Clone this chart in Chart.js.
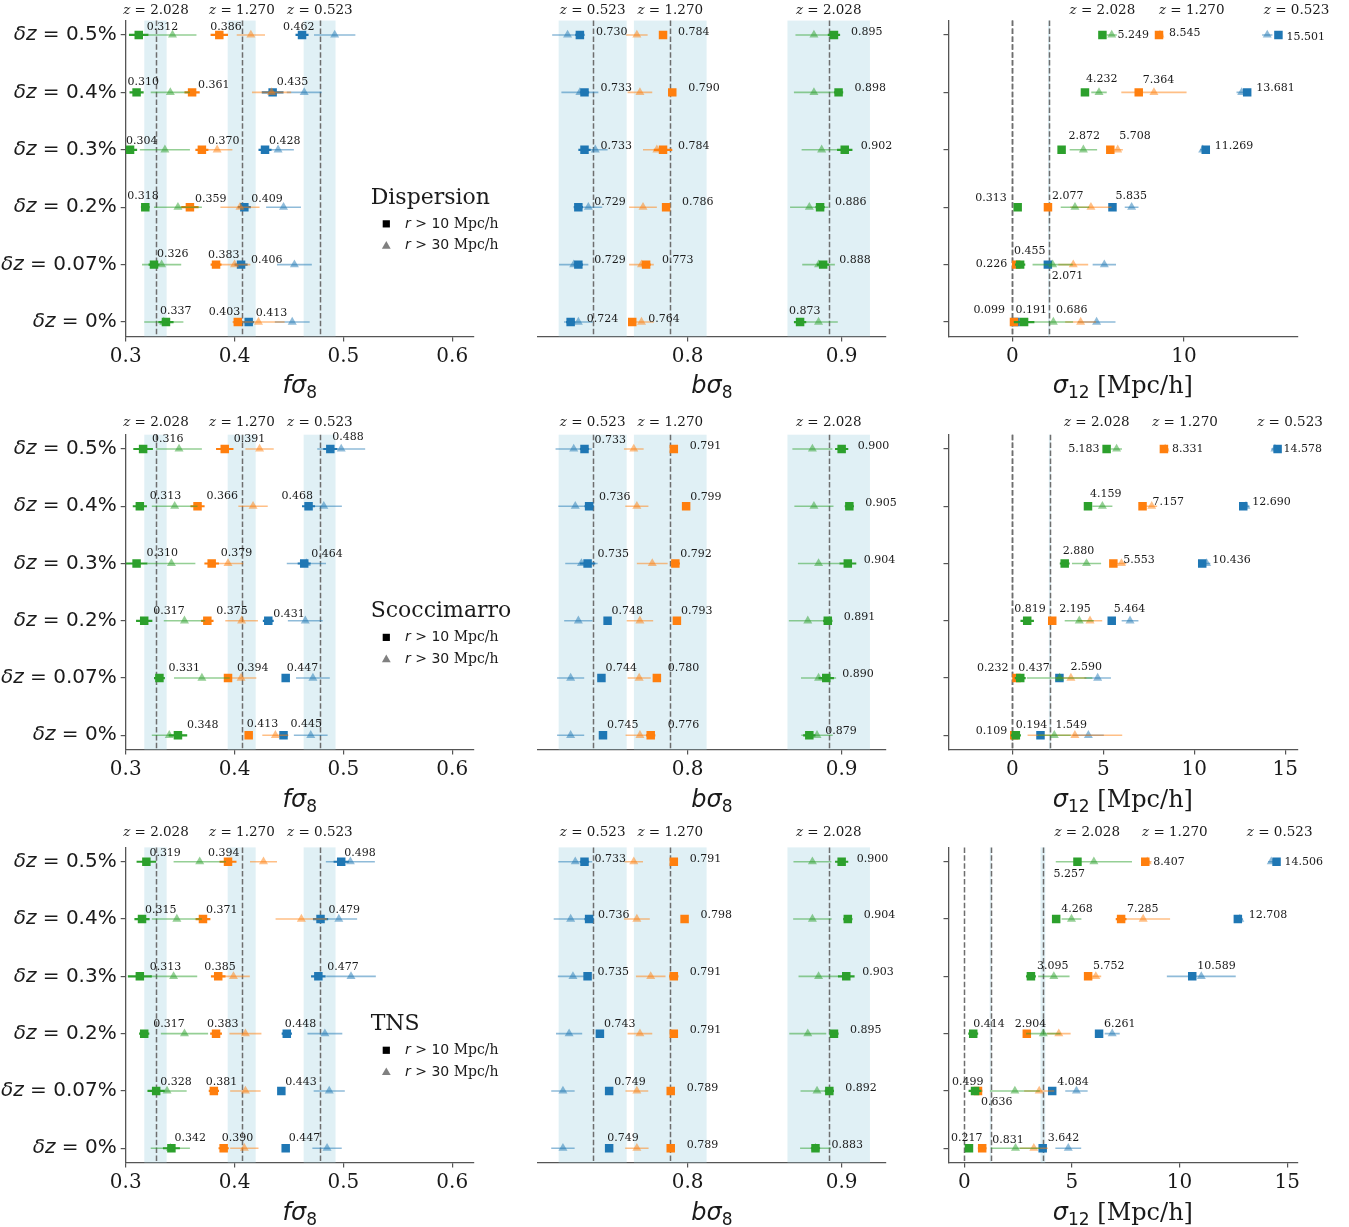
<!DOCTYPE html>
<html>
<head>
<meta charset="utf-8">
<script src="https://cdn.jsdelivr.net/npm/chart.js@4/dist/chart.umd.min.js"></script>
<style>
  html, body { margin: 0; padding: 0; background: #fff; }
  #fig { position: relative; width: 1349px; height: 1227px; overflow: hidden; background: #fff; }
  #fig canvas { position: absolute; }
</style>
</head>
<body>
<div id="fig"></div>
<script>
// ── labels ────────────────────────────────────────────────────────
const METHODS = ['Dispersion', 'Scoccimarro', 'TNS'];
const DZ_LABELS = ['0.5%', '0.4%', '0.3%', '0.2%', '0.07%', '0%'];   // top to bottom
const Z_LABELS = ['2.028', '1.270', '0.523'];                        // green, orange, blue
const CUT_LABELS = ['10', '30'];

// ── fiducial values & ±3% bands ───────────────────────────────────
const FS8_FID = [0.3278, 0.4068, 0.4784];
const FS8_BANDS = [[0.3171, 0.3376], [0.3937, 0.4194], [0.4635, 0.4928]];
const BS8_FID = [0.8916, 0.7887, 0.7383];
const BS8_BANDS = [[0.8648, 0.9184], [0.7651, 0.8123], [0.7162, 0.7604]];
const S12_FID = [[0, 0, 2.14], [0, 0, 2.07], [0, 1.22, 3.65]];
const S12_BANDS = [
  [[0, 0], [0, 0], [2.08, 2.20]],
  [[0, 0], [0, 0], [2.01, 2.13]],
  [[0, 0], [1.18, 1.26], [3.54, 3.76]],
];
const S12_ZX = [[5.25, 10.45, 16.56], [4.64, 9.49, 15.26], [5.71, 9.78, 14.65]];

// ── axis ranges ───────────────────────────────────────────────────
const FS8_RANGE = [0.3, 0.62];
const BS8_RANGE = [0.7028, 0.9288];
const S12_RANGE = [[-3.716, 16.6], [-3.505, 15.66], [-0.734, 15.47]];
const S12_STEP = [10, 5, 5];

// ── Dispersion ────────────────────────────────────────────────────
// rows: dz 0.5% .. 0% ; columns: z = 2.028, 1.270, 0.523
const DISP_FS8_SQ = [[0.312, 0.386, 0.462], [0.310, 0.361, 0.435], [0.304, 0.370, 0.428], [0.318, 0.359, 0.409], [0.326, 0.383, 0.406], [0.337, 0.403, 0.413]];
const DISP_FS8_SQ_ERR = [[0.009, 0.008, 0.006], [0.0065, 0.007, 0.010], [0.0065, 0.006, 0.006], [0.004, 0.008, 0.006], [0.005, 0.005, 0.006], [0.007, 0.004, 0.005]];
const DISP_FS8_TRI = [[0.343, 0.415, 0.492], [0.341, 0.434, 0.464], [0.336, 0.384, 0.440], [0.348, 0.405, 0.445], [0.333, 0.400, 0.455], [0.335, 0.422, 0.453]];
const DISP_FS8_TRI_ERR = [[0.022, 0.013, 0.019], [0.018, 0.018, 0.016], [0.023, 0.014, 0.0145], [0.022, 0.018, 0.016], [0.018, 0.0145, 0.016], [0.018, 0.024, 0.016]];

const DISP_BS8_SQ = [[0.895, 0.784, 0.730], [0.898, 0.790, 0.733], [0.902, 0.784, 0.733], [0.886, 0.786, 0.729], [0.888, 0.773, 0.729], [0.873, 0.764, 0.724]];
const DISP_BS8_SQ_ERR = [[0.004, 0.002, 0.003], [0.003, 0.002, 0.003], [0.005, 0.006, 0.004], [0.003, 0.002, 0.003], [0.004, 0.003, 0.003], [0.004, 0.002, 0.003]];
const DISP_BS8_TRI = [[0.882, 0.767, 0.722], [0.882, 0.769, 0.730], [0.887, 0.780, 0.740], [0.879, 0.771, 0.7355], [0.885, 0.770, 0.726], [0.885, 0.770, 0.729]];
const DISP_BS8_TRI_ERR = [[0.012, 0.007, 0.010], [0.013, 0.008, 0.012], [0.013, 0.009, 0.008], [0.0125, 0.009, 0.009], [0.0106, 0.008, 0.0095], [0.0125, 0.008, 0.0093]];

const DISP_S12_SQ = [[5.249, 8.545, 15.501], [4.232, 7.364, 13.681], [2.872, 5.708, 11.269], [0.313, 2.077, 5.835], [0.455, 0.226, 2.071], [0.686, 0.099, 0.191]];
const DISP_S12_SQ_ERR = [[0.15, 0.1, 0.1], [0.15, 0.2, 0.1], [0.2, 0.2, 0.1], [0.1, 0.1, 0.2], [0.3, 0.1, 0.1], [0.6, 0.1, 0.1]];
const DISP_S12_TRI = [[5.79, 8.6, 14.85], [5.05, 8.25, 13.36], [4.14, 6.14, 11.09], [3.65, 4.58, 6.95], [2.35, 3.55, 5.36], [2.39, 3.98, 4.91]];
const DISP_S12_TRI_ERR = [[0.3, 0.2, 0.3], [0.45, 1.9, 0.3], [0.8, 0.3, 0.15], [0.83, 1.2, 0.4], [1.17, 0.87, 0.68], [1.15, 0.9, 1.1]];

// ── Scoccimarro ───────────────────────────────────────────────────
const SCOC_FS8_SQ = [[0.316, 0.391, 0.488], [0.313, 0.366, 0.468], [0.310, 0.379, 0.464], [0.317, 0.375, 0.431], [0.331, 0.394, 0.447], [0.348, 0.413, 0.445]];
const SCOC_FS8_SQ_ERR = [[0.009, 0.008, 0.0065], [0.0065, 0.0065, 0.006], [0.010, 0.0067, 0.006], [0.0075, 0.0057, 0.005], [0.005, 0.003, 0.003], [0.0085, 0.003, 0.004]];
const SCOC_FS8_TRI = [[0.349, 0.423, 0.498], [0.345, 0.417, 0.482], [0.342, 0.394, 0.466], [0.354, 0.4065, 0.465], [0.370, 0.406, 0.472], [0.340, 0.4375, 0.470]];
const SCOC_FS8_TRI_ERR = [[0.021, 0.013, 0.022], [0.021, 0.0135, 0.0166], [0.022, 0.014, 0.018], [0.019, 0.015, 0.016], [0.0256, 0.014, 0.0155], [0.016, 0.012, 0.0155]];

const SCOC_BS8_SQ = [[0.900, 0.791, 0.733], [0.905, 0.799, 0.736], [0.904, 0.792, 0.735], [0.891, 0.793, 0.748], [0.890, 0.780, 0.744], [0.879, 0.776, 0.745]];
const SCOC_BS8_SQ_ERR = [[0.0043, 0.002, 0.003], [0.003, 0.002, 0.003], [0.0055, 0.003, 0.005], [0.003, 0.002, 0.002], [0.005, 0.002, 0.002], [0.004, 0.003, 0.002]];
const SCOC_BS8_TRI = [[0.881, 0.765, 0.726], [0.882, 0.767, 0.727], [0.885, 0.777, 0.731], [0.878, 0.769, 0.729], [0.885, 0.7685, 0.724], [0.884, 0.769, 0.724]];
const SCOC_BS8_TRI_ERR = [[0.013, 0.0064, 0.0118], [0.0127, 0.0075, 0.011], [0.0134, 0.010, 0.0105], [0.0123, 0.0086, 0.0092], [0.0114, 0.0075, 0.0088], [0.0102, 0.0093, 0.0088]];

const SCOC_S12_SQ = [[5.183, 8.331, 14.578], [4.159, 7.157, 12.690], [2.880, 5.553, 10.436], [0.819, 2.195, 5.464], [0.437, 0.232, 2.590], [0.194, 0.109, 1.549]];
const SCOC_S12_SQ_ERR = [[0.15, 0.1, 0.1], [0.15, 0.15, 0.1], [0.27, 0.15, 0.2], [0.37, 0.1, 0.1], [0.3, 0.1, 0.15], [0.28, 0.1, 0.1]];
const SCOC_S12_TRI = [[5.73, 8.4, 14.43], [4.95, 7.66, 12.84], [4.08, 6.0, 10.68], [3.68, 4.27, 6.47], [2.6, 3.22, 4.69], [2.31, 3.44, 4.18]];
const SCOC_S12_TRI_ERR = [[0.3, 0.2, 0.2], [0.55, 0.3, 0.2], [0.8, 0.27, 0.2], [0.8, 0.67, 0.46], [1.8, 0.85, 0.73], [0.9, 2.6, 0.85]];

// ── TNS ───────────────────────────────────────────────────────────
const TNS_FS8_SQ = [[0.319, 0.394, 0.498], [0.315, 0.371, 0.479], [0.313, 0.385, 0.477], [0.317, 0.383, 0.448], [0.328, 0.381, 0.443], [0.342, 0.390, 0.447]];
const TNS_FS8_SQ_ERR = [[0.009, 0.0078, 0.007], [0.007, 0.0068, 0.007], [0.011, 0.0067, 0.0067], [0.0047, 0.0054, 0.0047], [0.0079, 0.0047, 0.003], [0.0078, 0.0047, 0.003]];
const TNS_FS8_TRI = [[0.368, 0.4266, 0.5064], [0.347, 0.4614, 0.4958], [0.344, 0.399, 0.507], [0.354, 0.410, 0.483], [0.338, 0.410, 0.487], [0.341, 0.409, 0.485]];
const TNS_FS8_TRI_ERR = [[0.024, 0.0124, 0.0225], [0.023, 0.0237, 0.0168], [0.0217, 0.015, 0.0228], [0.0217, 0.0147, 0.016], [0.018, 0.014, 0.0143], [0.018, 0.013, 0.0135]];

const TNS_BS8_SQ = [[0.900, 0.791, 0.733], [0.904, 0.798, 0.736], [0.903, 0.791, 0.735], [0.895, 0.791, 0.743], [0.892, 0.789, 0.749], [0.883, 0.789, 0.749]];
const TNS_BS8_SQ_ERR = [[0.0043, 0.002, 0.003], [0.003, 0.002, 0.003], [0.0054, 0.003, 0.002], [0.003, 0.002, 0.002], [0.003, 0.002, 0.002], [0.003, 0.002, 0.002]];
const TNS_BS8_TRI = [[0.881, 0.765, 0.727], [0.881, 0.767, 0.724], [0.885, 0.776, 0.7255], [0.878, 0.769, 0.723], [0.884, 0.767, 0.719], [0.883, 0.767, 0.719]];
const TNS_BS8_TRI_ERR = [[0.0123, 0.006, 0.011], [0.0125, 0.0084, 0.011], [0.013, 0.0096, 0.0098], [0.012, 0.008, 0.0085], [0.0107, 0.0074, 0.0076], [0.010, 0.0076, 0.0076]];

const TNS_S12_SQ = [[5.257, 8.407, 14.506], [4.268, 7.285, 12.708], [3.095, 5.752, 10.589], [0.414, 2.904, 6.261], [0.499, 0.636, 4.084], [0.217, 0.831, 3.642]];
const TNS_S12_SQ_ERR = [[0.15, 0.1, 0.1], [0.15, 0.25, 0.1], [0.23, 0.15, 0.15], [0.23, 0.1, 0.1], [0.3, 0.2, 0.1], [0.1, 0.2, 0.1]];
const TNS_S12_TRI = [[6.02, 8.5, 14.26], [4.98, 8.31, 12.8], [4.16, 6.11, 11.01], [3.67, 4.39, 6.87], [2.35, 3.48, 5.21], [2.38, 3.23, 4.83]];
const TNS_S12_TRI_ERR = [[1.77, 0.2, 0.15], [0.46, 1.25, 0.15], [0.73, 0.25, 1.6], [0.8, 0.55, 0.35], [1.16, 0.7, 0.52], [1.15, 0.65, 0.6]];

// ── value-label nudges (px from the square: dx, dy, 'r' = right aligned) ──
const DISP_FS8_NUDGE = [[[8, -8], [-9, -8], [-19, -8]], [[-9, -10], [6, -7], [4, -10]], [[-4, -9], [6, -9], [4, -9]], [[-18, -11], [5, -8], [7, -8]], [[3, -10], [-8, -9], [10, -4]], [[-6, -11], [-29, -10], [7, -9]]];
const DISP_BS8_NUDGE = [[[17, -3], [15, -3], [16, -3]], [[16, -4], [16, -4], [16, -4]], [[16, -4], [15, -4], [16, -4]], [[15, -5], [16, -5], [16, -5]], [[16, -4], [16, -4], [16, -4]], [[-11, -11], [16, -3], [16, -3]]];
const DISP_S12_NUDGE = [[[15, 0], [10, -2], [8, 2]], [[1, -13], [4, -12], [9, -4]], [[7, -14], [9, -14], [9, -4]], [[-11, -9, 'r'], [4, -11], [3, -11]], [[-6, -13], [-9, 0, 'r'], [4, 12]], [[32, -12], [-9, -12, 'r'], [0, -12]]];
const SCOC_FS8_NUDGE = [[[9, -10], [9, -10], [2, -12]], [[10, -10], [9, -10], [-27, -10]], [[10, -10], [9, -10], [7, -9]], [[9, -10], [9, -10], [5, -7]], [[9, -10], [9, -10], [1, -10]], [[9, -10], [-2, -11], [7, -11]]];
const SCOC_BS8_NUDGE = [[[16, -3], [16, -3], [10, -9]], [[16, -3], [4, -9], [10, -9]], [[16, -3], [5, -9], [10, -9]], [[16, -4], [4, -10], [4, -10]], [[16, -4], [11, -10], [4, -10]], [[16, -4], [17, -10], [4, -10]]];
const SCOC_S12_NUDGE = [[[-7, 0, 'r'], [8, 0], [6, 0]], [[2, -12], [10, -4], [9, -4]], [[-2, -12], [10, -3], [10, -3]], [[-13, -12], [7, -12], [2, -12]], [[-2, -10], [-8, -10, 'r'], [11, -11]], [[0, -10], [-7, -4, 'r'], [15, -10]]];
const TNS_FS8_NUDGE = [[[3, -9], [-20, -9], [3, -9]], [[3, -9], [3, -9], [8, -9]], [[10, -9], [-14, -9], [9, -9]], [[9, -10], [-9, -10], [-2, -10]], [[4, -9], [-8, -9], [4, -9]], [[3, -10], [-2, -10], [3, -10]]];
const TNS_BS8_NUDGE = [[[15, -3], [16, -3], [10, -3]], [[16, -4], [16, -4], [9, -4]], [[16, -4], [16, -4], [10, -4]], [[16, -4], [16, -4], [4, -10]], [[16, -3], [16, -3], [5, -9]], [[16, -3], [16, -3], [-2, -10]]];
const TNS_S12_NUDGE = [[[-24, 12], [8, 0], [8, 0]], [[5, -10], [6, -10], [11, -4]], [[6, -10], [5, -10], [5, -10]], [[0, -10], [-12, -10], [5, -10]], [[-23, -9], [3, 11], [5, -9]], [[-18, -10], [10, -8], [5, -10]]];

// ── layout & style ────────────────────────────────────────────────
const COL_X = [[125.7, 474], [538, 886], [948.5, 1297.3]];
const ROW_Y = [[20.6, 336.4], [434.7, 749.6], [847.4, 1162.6]];
const CANVAS_X = [[0, 545], [500, 440], [900, 449]];
const CANVAS_Y = [[0, 410], [398, 417], [808, 419]];
const ZLABEL_OFF = [10, 12, 15];
const Z_RGB = ['44,160,44', '255,127,14', '31,119,180'];
const SANS = '"DejaVu Sans"';
const SERIF = '"DejaVu Serif"';
const SPINE = '#555';
const INK = '#1a1a1a';

const XTITLES = [
  [{ t: 'fσ', f: `italic 24px ${SANS}` }, { t: '8', f: `17px ${SANS}`, dy: 5 }],
  [{ t: 'bσ', f: `italic 24px ${SANS}` }, { t: '8', f: `17px ${SANS}`, dy: 5 }],
  [{ t: 'σ', f: `italic 24px ${SANS}` }, { t: '12', f: `17px ${SANS}`, dy: 5 }, { t: ' [Mpc/h]', f: `24px ${SERIF}` }],
];

const PANELS = [
  [DISP_FS8_SQ, DISP_FS8_SQ_ERR, DISP_FS8_TRI, DISP_FS8_TRI_ERR, DISP_FS8_NUDGE],
  [DISP_BS8_SQ, DISP_BS8_SQ_ERR, DISP_BS8_TRI, DISP_BS8_TRI_ERR, DISP_BS8_NUDGE],
  [DISP_S12_SQ, DISP_S12_SQ_ERR, DISP_S12_TRI, DISP_S12_TRI_ERR, DISP_S12_NUDGE],
  [SCOC_FS8_SQ, SCOC_FS8_SQ_ERR, SCOC_FS8_TRI, SCOC_FS8_TRI_ERR, SCOC_FS8_NUDGE],
  [SCOC_BS8_SQ, SCOC_BS8_SQ_ERR, SCOC_BS8_TRI, SCOC_BS8_TRI_ERR, SCOC_BS8_NUDGE],
  [SCOC_S12_SQ, SCOC_S12_SQ_ERR, SCOC_S12_TRI, SCOC_S12_TRI_ERR, SCOC_S12_NUDGE],
  [TNS_FS8_SQ, TNS_FS8_SQ_ERR, TNS_FS8_TRI, TNS_FS8_TRI_ERR, TNS_FS8_NUDGE],
  [TNS_BS8_SQ, TNS_BS8_SQ_ERR, TNS_BS8_TRI, TNS_BS8_TRI_ERR, TNS_BS8_NUDGE],
  [TNS_S12_SQ, TNS_S12_SQ_ERR, TNS_S12_TRI, TNS_S12_TRI_ERR, TNS_S12_NUDGE],
];

// draw text made of differently styled pieces
function rich(ctx, parts, x, y, align) {
  ctx.textAlign = 'left';
  let w = 0;
  for (const p of parts) { ctx.font = p.f; w += ctx.measureText(p.t).width; }
  let cx = align === 'right' ? x - w : align === 'center' ? x - w / 2 : x;
  for (const p of parts) {
    ctx.font = p.f;
    ctx.fillText(p.t, cx, y + (p.dy || 0));
    cx += ctx.measureText(p.t).width;
  }
}

function panelPlugin(p) {
  return {
    id: 'panel',
    beforeDatasetsDraw(chart) {
      const { ctx, chartArea: A, scales: { x } } = chart;
      ctx.save();
      ctx.fillStyle = 'rgba(173,216,230,0.38)';
      for (const [a, b] of p.bands) {
        if (b - a <= 0) continue;
        const x1 = x.getPixelForValue(a), x2 = x.getPixelForValue(b);
        ctx.fillRect(x1, A.top, x2 - x1, A.bottom - A.top);
      }
      ctx.setLineDash([5.5, 2.4]);
      ctx.strokeStyle = '#6e6e6e';
      ctx.lineWidth = 1.5;
      for (const v of p.fid) {
        const px = Math.round(x.getPixelForValue(v)) + 0.5;
        ctx.beginPath(); ctx.moveTo(px, A.top); ctx.lineTo(px, A.bottom); ctx.stroke();
      }
      ctx.restore();
    },
    beforeDatasetDraw(chart, args) {
      // error bars drawn right under their own markers
      const ds = chart.data.datasets[args.index];
      const { ctx, chartArea: A, scales: { x, y } } = chart;
      ctx.save();
      ctx.beginPath(); ctx.rect(A.left, A.top, A.right - A.left, A.bottom - A.top); ctx.clip();
      ctx.strokeStyle = ds.errColor;
      ctx.lineWidth = ds.errWidth;
      ds.data.forEach((pt, i) => {
        const py = y.getPixelForValue(pt.y);
        ctx.beginPath();
        ctx.moveTo(x.getPixelForValue(pt.x - ds.errs[i]), py);
        ctx.lineTo(x.getPixelForValue(pt.x + ds.errs[i]), py);
        ctx.stroke();
      });
      ctx.restore();
    },
    afterDatasetsDraw(chart) {
      const { ctx, chartArea: A, scales: { x, y } } = chart;
      ctx.save();
      ctx.fillStyle = INK;
      ctx.textBaseline = 'middle';

      // value labels
      ctx.font = `11px ${SERIF}`;
      p.sq.forEach((row, i) => row.forEach((v, k) => {
        const [dx, dy, al] = p.nudge[i][k];
        ctx.textAlign = al === 'r' ? 'right' : 'left';
        ctx.fillText(v.toFixed(3), x.getPixelForValue(v) + dx, y.getPixelForValue(5 - i) + dy);
      }));

      // redshift labels above the axes
      Z_LABELS.forEach((z, k) => {
        rich(ctx, [{ t: 'z', f: `italic 13.5px ${SERIF}` }, { t: ' = ' + z, f: `13.5px ${SERIF}` }],
          x.getPixelForValue(p.zx[k]), A.top - ZLABEL_OFF[p.row], 'center');
      });

      // y tick labels (first column only)
      if (p.col === 0) {
        DZ_LABELS.forEach((d, i) => {
          rich(ctx, [{ t: 'δz', f: `italic 20px ${SANS}` }, { t: ' = ' + d, f: `20px ${SANS}` }],
            A.left - 9, y.getPixelForValue(5 - i), 'right');
        });
        // legend
        const lx = A.left;
        ctx.font = `22px ${SERIF}`;
        ctx.textAlign = 'left';
        ctx.fillText(METHODS[p.row], lx + 245, y.getPixelForValue(2.16));
        const ySq = y.getPixelForValue(1.71), yTri = y.getPixelForValue(1.33);
        ctx.fillStyle = '#000';
        ctx.fillRect(lx + 257, ySq - 3.6, 7.2, 7.2);
        ctx.fillStyle = '#808080';
        ctx.beginPath();
        ctx.moveTo(lx + 260.6, yTri - 4.6); ctx.lineTo(lx + 265, yTri + 3); ctx.lineTo(lx + 256.2, yTri + 3);
        ctx.closePath(); ctx.fill();
        ctx.fillStyle = INK;
        [ySq, yTri].forEach((yy, j) => {
          rich(ctx, [
            { t: 'r', f: `italic 14px ${SANS}` },
            { t: ' > ' + CUT_LABELS[j] + ' ', f: `14px ${SANS}` },
            { t: 'Mpc/h', f: `14px ${SERIF}` },
          ], lx + 279.3, yy, 'left');
        });
      }

      // x-axis title
      ctx.textBaseline = 'alphabetic';
      rich(ctx, XTITLES[p.col], (A.left + A.right) / 2, A.bottom + 57, 'center');
      ctx.restore();
    },
  };
}

const fig = document.getElementById('fig');

PANELS.forEach((arrs, n) => {
  const row = Math.floor(n / 3), col = n % 3;
  const [sq, sqErr, tri, triErr, nudge] = arrs;
  const range = col === 0 ? FS8_RANGE : col === 1 ? BS8_RANGE : S12_RANGE[row];
  const fid = col === 0 ? FS8_FID : col === 1 ? BS8_FID : S12_FID[row];
  const bands = col === 0 ? FS8_BANDS : col === 1 ? BS8_BANDS : S12_BANDS[row];
  const zx = col === 2 ? S12_ZX[row] : fid;
  const step = col === 2 ? S12_STEP[row] : 0.1;

  const [cl, cw] = CANVAS_X[col], [ct, ch] = CANVAS_Y[row];
  const [pl, pr] = COL_X[col], [pt, pb] = ROW_Y[row];
  const padL = pl - cl, padR = cl + cw - pr, padT = pt - ct, axisH = ct + ch - pb;

  const cv = document.createElement('canvas');
  cv.width = cw; cv.height = ch;
  Object.assign(cv.style, { left: cl + 'px', top: ct + 'px', width: cw + 'px', height: ch + 'px' });
  fig.appendChild(cv);

  const datasets = [];
  for (let k = 0; k < 3; k++) {
    datasets.push({
      data: tri.map((r, i) => ({ x: r[k], y: 5 - i })),
      errs: triErr.map(r => r[k]),
      errColor: `rgba(${Z_RGB[k]},0.5)`, errWidth: 1.6,
      pointStyle: 'triangle', pointRadius: 5.2,
      backgroundColor: `rgba(${Z_RGB[k]},0.5)`, borderWidth: 0,
    });
    datasets.push({
      data: sq.map((r, i) => ({ x: r[k], y: 5 - i })),
      errs: sqErr.map(r => r[k]),
      errColor: `rgb(${Z_RGB[k]})`, errWidth: 2.2,
      pointStyle: 'rect', pointRadius: 6,
      backgroundColor: `rgb(${Z_RGB[k]})`, borderWidth: 0,
    });
  }

  new Chart(cv, {
    type: 'scatter',
    data: { datasets },
    plugins: [panelPlugin({ row, col, sq, nudge, fid, bands, zx })],
    options: {
      responsive: false,
      animation: false,
      devicePixelRatio: 1,
      events: [],
      layout: { padding: { top: padT, right: padR, left: 0, bottom: 0 } },
      plugins: { legend: { display: false }, tooltip: { enabled: false } },
      scales: {
        x: {
          type: 'linear', min: range[0], max: range[1],
          ticks: {
            stepSize: step, includeBounds: false, maxRotation: 0, autoSkip: false,
            padding: 3, color: INK, font: { family: 'DejaVu Serif', size: 20 },
            callback: v => col === 2 ? String(Math.round(v)) : v.toFixed(1),
          },
          grid: { drawOnChartArea: false, tickLength: 5, color: SPINE, lineWidth: 1.2 },
          border: { color: SPINE, width: 1.3 },
          afterFit(s) { s.height = axisH; s.paddingLeft = 0; s.paddingRight = 0; },
        },
        y: {
          type: 'linear', min: -0.25, max: 5.25,
          ticks: { display: false, stepSize: 1, includeBounds: false },
          grid: { display: col !== 1, drawOnChartArea: false, tickLength: 5, color: SPINE, lineWidth: 1.2 },
          border: { display: col !== 1, color: SPINE, width: 1.3 },
          afterFit(s) { s.width = padL; s.paddingTop = 0; s.paddingBottom = 0; },
        },
      },
    },
  });
});
</script>
</body>
</html>
